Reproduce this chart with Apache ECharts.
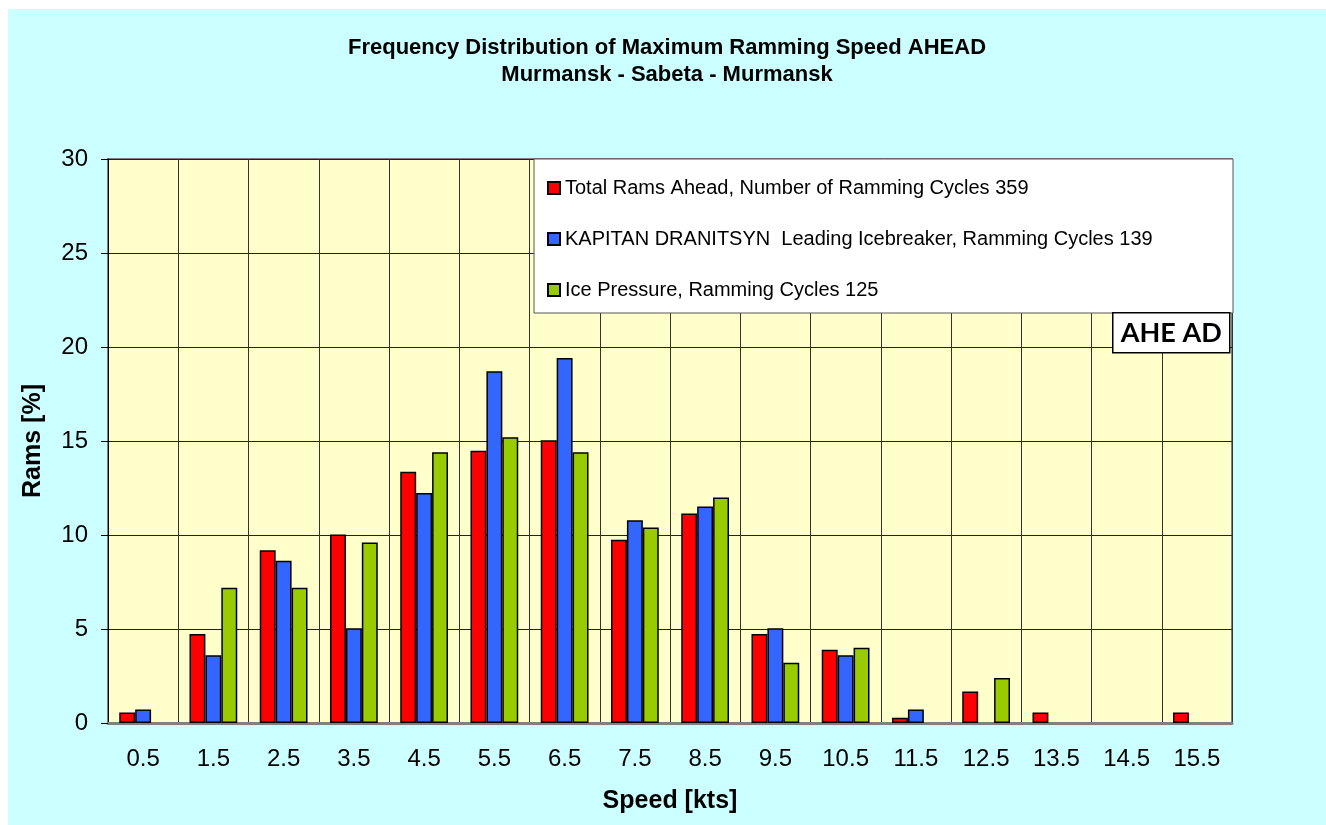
<!DOCTYPE html>
<html>
<head>
<meta charset="utf-8">
<title>Frequency Distribution of Maximum Ramming Speed AHEAD</title>
<script src="https://cdn.jsdelivr.net/npm/echarts@6/dist/echarts.min.js"></script>
<style>
  html, body { margin: 0; padding: 0; background: #ffffff; }
  #chart { position: absolute; left: 8px; top: 9px; width: 1318px; height: 816px; }
</style>
</head>
<body>
<div id="chart"></div>
<script>
// Speed classes [kts]
const speeds = ['0.5', '1.5', '2.5', '3.5', '4.5', '5.5', '6.5', '7.5', '8.5', '9.5', '10.5', '11.5', '12.5', '13.5', '14.5', '15.5'];

// Share of rams per speed class [%]
const totalRams = [0.56, 4.74, 9.19, 10.03, 13.37, 14.48, 15.04, 9.75, 11.14, 4.74, 3.90, 0.28, 1.67, 0.56, 0, 0.56];
const dranitsynRams = [0.72, 3.60, 8.63, 5.04, 12.23, 18.71, 19.42, 10.79, 11.51, 5.04, 3.60, 0.72, 0, 0, 0, 0];
const icePressureRams = [0, 7.2, 7.2, 9.6, 14.4, 15.2, 14.4, 10.4, 12.0, 3.2, 4.0, 0, 2.4, 0, 0, 0];

const seriesNames = [
  'Total Rams Ahead, Number of Ramming Cycles 359',
  'KAPITAN DRANITSYN  Leading Icebreaker, Ramming Cycles 139',
  'Ice Pressure, Ramming Cycles 125'
];
const seriesColors = ['#FF0000', '#3366FF', '#99CC00'];

const yTicks = { min: 0, max: 30, interval: 5 };

const FONT = '"Liberation Sans", Arial, sans-serif';

// empty classes draw no bar at all
const asBars = arr => arr.map(v => (v === 0 ? '-' : v));

const chart = echarts.init(document.getElementById('chart'), null, { renderer: 'canvas' });

chart.setOption({
  backgroundColor: '#CCFFFF',
  animation: false,
  textStyle: { fontFamily: FONT, color: '#000' },
  title: {
    text: 'Frequency Distribution of Maximum Ramming Speed AHEAD\nMurmansk - Sabeta - Murmansk',
    left: 'center',
    top: 20,
    textStyle: { fontFamily: FONT, fontSize: 22, fontWeight: 'bold', color: '#000', lineHeight: 27 }
  },
  grid: {
    left: 100, top: 150, right: 94, bottom: 102,
    show: true,
    backgroundColor: '#FFFFCC',
    borderColor: '#808080',
    borderWidth: 2
  },
  legend: {
    orient: 'vertical',
    left: 534,
    top: 163,
    z: 6,
    itemWidth: 12,
    itemHeight: 12,
    itemGap: 29,
    icon: 'rect',
    textStyle: { fontFamily: FONT, fontSize: 20, color: '#000', lineHeight: 22 },
    data: seriesNames
  },
  xAxis: {
    type: 'category',
    data: speeds,
    boundaryGap: true,
    name: 'Speed [kts]',
    nameLocation: 'middle',
    nameGap: 66,
    nameTextStyle: { fontFamily: FONT, fontSize: 25, fontWeight: 'bold', color: '#000' },
    axisLine: { show: true, lineStyle: { color: '#808080', width: 3 } },
    axisTick: { show: false },
    axisLabel: { fontFamily: FONT, fontSize: 24, color: '#000', margin: 24 },
    splitLine: { show: true, lineStyle: { color: '#333', width: 1 } }
  },
  yAxis: {
    type: 'value',
    min: yTicks.min,
    max: yTicks.max,
    interval: yTicks.interval,
    name: 'Rams [%]',
    nameLocation: 'middle',
    nameGap: 62,
    nameRotate: 90,
    nameTextStyle: { fontFamily: FONT, fontSize: 25, fontWeight: 'bold', color: '#000' },
    axisLine: { show: true, lineStyle: { color: '#000', width: 1 } },
    axisTick: { show: true, inside: false, length: 7, lineStyle: { color: '#000' } },
    axisLabel: { fontFamily: FONT, fontSize: 24, color: '#000', margin: 20 },
    splitLine: { show: true, lineStyle: { color: '#222', width: 1 } }
  },
  series: [totalRams, dranitsynRams, icePressureRams].map((vals, i) => ({
    name: seriesNames[i],
    type: 'bar',
    data: asBars(vals),
    barGap: '0%',
    barCategoryGap: '32%',
    itemStyle: { color: seriesColors[i], borderColor: '#000', borderWidth: 1.5 }
  })),
  graphic: [
    {
      type: 'rect',
      z: 5,
      shape: { x: 526, y: 150, width: 699, height: 154 },
      style: { fill: '#FFFFFF', stroke: '#555', lineWidth: 1 }
    },
    {
      type: 'group',
      left: 1104,
      top: 303,
      z: 5,
      children: [
        {
          type: 'rect',
          z: 5,
          shape: { x: 0, y: 0, width: 117, height: 40 },
          style: { fill: '#FFFFFF', stroke: '#000', lineWidth: 1.5 }
        },
        {
          type: 'text',
          z: 6,
          style: {
            x: 58.5, y: 21,
            text: 'AHE AD',
            fill: '#000',
            font: 'bold 27px Lato, "Liberation Sans", sans-serif',
            textAlign: 'center',
            textVerticalAlign: 'middle'
          }
        }
      ]
    }
  ]
});
</script>
</body>
</html>
